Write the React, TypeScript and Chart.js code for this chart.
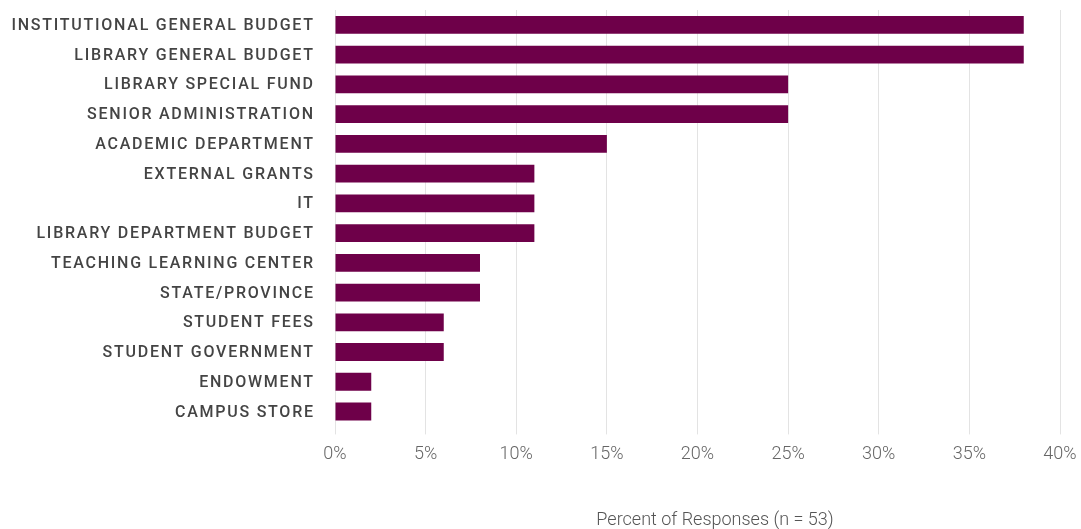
import React, { useEffect, useRef } from "react";
import { Chart, registerables } from "chart.js";

Chart.register(...registerables);

const categories = [
  "INSTITUTIONAL GENERAL BUDGET",
  "LIBRARY GENERAL BUDGET",
  "LIBRARY SPECIAL FUND",
  "SENIOR ADMINISTRATION",
  "ACADEMIC DEPARTMENT",
  "EXTERNAL GRANTS",
  "IT",
  "LIBRARY DEPARTMENT BUDGET",
  "TEACHING LEARNING CENTER",
  "STATE/PROVINCE",
  "STUDENT FEES",
  "STUDENT GOVERNMENT",
  "ENDOWMENT",
  "CAMPUS STORE",
];

const percentValues = [38, 38, 25, 25, 15, 11, 11, 11, 8, 8, 6, 6, 2, 2];

const xAxisTitle = "Percent of Responses (n = 53)";

export default function App() {
  const canvasRef = useRef<HTMLCanvasElement | null>(null);

  useEffect(() => {
    if (!canvasRef.current) return;

    const labelPlugin = {
      id: "customLabels",
      afterDraw(chart: any) {
        const ctx = chart.ctx;
        const yScale = chart.scales.y;
        const area = chart.chartArea;
        ctx.save();
        ctx.font = "500 16px Roboto";
        (ctx as any).letterSpacing = "1.75px";
        ctx.fillStyle = "#444444";
        ctx.textAlign = "right";
        ctx.textBaseline = "middle";
        categories.forEach((c, i) => {
          ctx.fillText(c, area.left - 22 + 1.75, yScale.getPixelForValue(i) + 1);
        });
        (ctx as any).letterSpacing = "0px";
        ctx.font = "300 18px Roboto";
        ctx.fillStyle = "#555555";
        ctx.textAlign = "center";
        ctx.textBaseline = "middle";
        ctx.fillText(xAxisTitle, 715, 520);
        ctx.restore();
      },
    };

    const chart = new Chart(canvasRef.current, {
      type: "bar",
      data: {
        labels: categories,
        datasets: [
          {
            data: percentValues,
            backgroundColor: "#6e0049",
            borderWidth: 0,
            barPercentage: 0.6,
            categoryPercentage: 1,
          },
        ],
      },
      options: {
        indexAxis: "y",
        animation: false,
        responsive: true,
        maintainAspectRatio: false,
        layout: { padding: { left: 335, right: 21, top: 10, bottom: 55 } },
        plugins: {
          legend: { display: false },
          tooltip: { enabled: false },
          title: { display: false },
        },
        scales: {
          x: {
            min: 0,
            max: 40,
            ticks: {
              stepSize: 5,
              callback: (v: any) => v + "%",
              font: { family: "Roboto", size: 18, weight: "300" },
              color: "#666666",
              padding: 9,
              maxRotation: 0,
            },
            grid: { color: "#e3e3e3", lineWidth: 1, tickLength: 8, drawTicks: true },
            border: { display: false },
            afterFit: (scale: any) => {
              scale.paddingRight = 0;
              scale.paddingLeft = 0;
            },
          },
          y: {
            ticks: { display: false },
            grid: { display: false, drawTicks: false },
            border: { display: false },
            afterFit: (scale: any) => {
              scale.width = 0;
            },
          },
        },
      },
      plugins: [labelPlugin],
    });

    return () => chart.destroy();
  }, []);

  return (
    <div style={{ position: "fixed", left: 0, top: 0, width: 1081, height: 529, background: "#ffffff" }}>
      <canvas ref={canvasRef} />
    </div>
  );
}
